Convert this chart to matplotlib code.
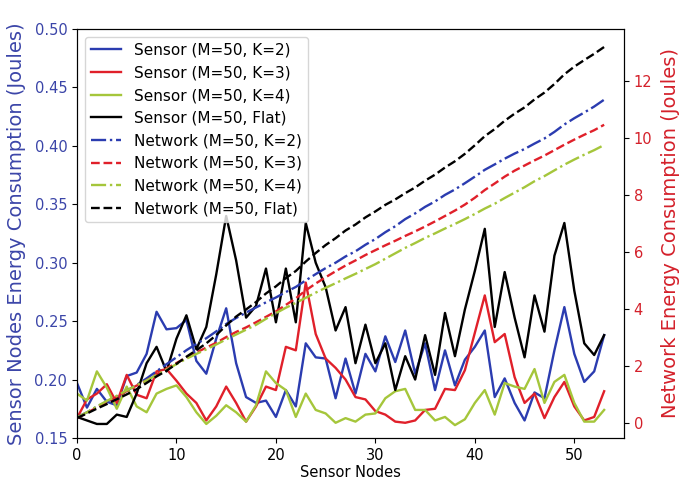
import numpy as np
import matplotlib
matplotlib.use('Agg')
import matplotlib.pyplot as plt

# sensor node energy (left axis, Joules)
nodes = np.arange(54)

sensor_k2 = [0.197, 0.176, 0.192, 0.181, 0.178, 0.203, 0.206, 0.222, 0.258, 0.243,
             0.244, 0.251, 0.216, 0.205, 0.235, 0.261, 0.214, 0.185, 0.180, 0.182,
             0.168, 0.191, 0.177, 0.231, 0.219, 0.218, 0.184, 0.218, 0.188, 0.222,
             0.207, 0.237, 0.215, 0.242, 0.205, 0.231, 0.191, 0.225, 0.195, 0.217,
             0.228, 0.242, 0.185, 0.201, 0.180, 0.165, 0.189, 0.184, 0.225, 0.262,
             0.222, 0.198, 0.207, 0.238]
sensor_k3 = [0.167, 0.183, 0.188, 0.196, 0.180, 0.204, 0.187, 0.184, 0.207, 0.209,
             0.199, 0.188, 0.180, 0.165, 0.177, 0.194, 0.180, 0.164, 0.177, 0.194,
             0.191, 0.228, 0.225, 0.283, 0.239, 0.218, 0.210, 0.200, 0.185, 0.183,
             0.173, 0.170, 0.164, 0.163, 0.165, 0.174, 0.175, 0.192, 0.191, 0.208,
             0.240, 0.272, 0.232, 0.239, 0.202, 0.180, 0.188, 0.167, 0.185, 0.198,
             0.177, 0.165, 0.168, 0.190]
sensor_k4 = [0.188, 0.182, 0.207, 0.193, 0.175, 0.194, 0.177, 0.172, 0.188, 0.192,
             0.195, 0.185, 0.172, 0.162, 0.169, 0.178, 0.172, 0.164, 0.178, 0.207,
             0.197, 0.191, 0.168, 0.188, 0.174, 0.171, 0.163, 0.167, 0.164, 0.170,
             0.171, 0.184, 0.190, 0.192, 0.174, 0.174, 0.165, 0.168, 0.161, 0.166,
             0.180, 0.191, 0.170, 0.197, 0.194, 0.192, 0.209, 0.180, 0.198, 0.204,
             0.180, 0.164, 0.164, 0.174]
sensor_flat = [0.168, 0.165, 0.162, 0.162, 0.170, 0.168, 0.188, 0.214, 0.228, 0.207,
               0.235, 0.255, 0.226, 0.245, 0.290, 0.340, 0.302, 0.253, 0.263, 0.295,
               0.249, 0.295, 0.249, 0.334, 0.300, 0.279, 0.242, 0.262, 0.214, 0.247,
               0.214, 0.231, 0.191, 0.220, 0.200, 0.238, 0.204, 0.257, 0.220, 0.260,
               0.293, 0.329, 0.245, 0.292, 0.253, 0.219, 0.272, 0.241, 0.306, 0.334,
               0.276, 0.231, 0.221, 0.238]

# network energy (right axis, Joules)
network_k2 = [0.20, 0.37, 0.57, 0.75, 0.92, 1.13, 1.33, 1.56, 1.81, 2.06,
              2.30, 2.55, 2.77, 2.97, 3.21, 3.47, 3.68, 3.87, 4.05, 4.23,
              4.40, 4.59, 4.77, 5.00, 5.22, 5.43, 5.62, 5.84, 6.02, 6.25,
              6.45, 6.69, 6.90, 7.15, 7.35, 7.58, 7.77, 8.00, 8.19, 8.41,
              8.64, 8.88, 9.07, 9.27, 9.45, 9.61, 9.80, 9.98, 10.21, 10.47,
              10.69, 10.89, 11.10, 11.34]
network_k3 = [0.17, 0.35, 0.54, 0.73, 0.91, 1.12, 1.31, 1.49, 1.70, 1.91,
              2.10, 2.29, 2.47, 2.64, 2.81, 3.01, 3.19, 3.35, 3.53, 3.72,
              3.91, 4.14, 4.37, 4.65, 4.89, 5.11, 5.32, 5.52, 5.70, 5.89,
              6.06, 6.23, 6.39, 6.56, 6.72, 6.89, 7.07, 7.26, 7.45, 7.66,
              7.90, 8.17, 8.40, 8.64, 8.85, 9.03, 9.21, 9.38, 9.57, 9.76,
              9.94, 10.11, 10.27, 10.46]
network_k4 = [0.19, 0.37, 0.58, 0.77, 0.95, 1.14, 1.32, 1.49, 1.68, 1.87,
              2.06, 2.25, 2.42, 2.58, 2.75, 2.93, 3.10, 3.27, 3.44, 3.65,
              3.85, 4.04, 4.21, 4.39, 4.57, 4.74, 4.90, 5.07, 5.23, 5.40,
              5.57, 5.76, 5.95, 6.14, 6.31, 6.49, 6.65, 6.82, 6.98, 7.15,
              7.33, 7.52, 7.69, 7.89, 8.08, 8.27, 8.48, 8.66, 8.86, 9.06,
              9.24, 9.41, 9.57, 9.75]
network_flat = [0.17, 0.33, 0.50, 0.66, 0.83, 1.00, 1.18, 1.40, 1.63, 1.83,
                2.07, 2.32, 2.55, 2.79, 3.08, 3.42, 3.73, 3.98, 4.24, 4.54,
                4.79, 5.08, 5.33, 5.66, 5.96, 6.24, 6.48, 6.75, 6.96, 7.21,
                7.42, 7.65, 7.84, 8.06, 8.26, 8.50, 8.71, 8.96, 9.18, 9.44,
                9.74, 10.06, 10.31, 10.60, 10.85, 11.07, 11.35, 11.59, 11.89, 12.23,
                12.50, 12.73, 12.95, 13.19]

blue = '#2b3cb0'
red = '#e0202a'
green = '#a5c63b'
blue_txt = '#3b45a8'
red_txt = '#d4202a'

fig = plt.figure(figsize=(6.85, 4.86), dpi=100)
ax = fig.add_axes([0.1124, 0.0988, 0.7986, 0.8415])
ax2 = ax.twinx()

lw = 1.7
h1, = ax.plot(nodes, sensor_k2, color=blue, lw=lw, label='Sensor (M=50, K=2)')
h2, = ax.plot(nodes, sensor_k3, color=red, lw=lw, label='Sensor (M=50, K=3)')
h3, = ax.plot(nodes, sensor_k4, color=green, lw=lw, label='Sensor (M=50, K=4)')
h4, = ax.plot(nodes, sensor_flat, color='black', lw=lw, label='Sensor (M=50, Flat)')

h5, = ax2.plot(nodes, network_k2, color=blue, lw=lw, ls='-.', label='Network (M=50, K=2)')
h6, = ax2.plot(nodes, network_k3, color=red, lw=lw, ls='--', label='Network (M=50, K=3)')
h7, = ax2.plot(nodes, network_k4, color=green, lw=lw, ls='-.', label='Network (M=50, K=4)')
h8, = ax2.plot(nodes, network_flat, color='black', lw=lw, ls='--', label='Network (M=50, Flat)')

ax.set_xlim(0, 55)
ax.set_ylim(0.15, 0.50)
ax2.set_ylim(-0.53, 13.82)
ax.set_xticks([0, 10, 20, 30, 40, 50])
ax2.set_yticks([0, 2, 4, 6, 8, 10, 12])

ax.set_xlabel('Sensor Nodes', fontsize=10.5, labelpad=2)
ax.set_ylabel('Sensor Nodes Energy Consumption (Joules)', color=blue_txt, fontsize=14, labelpad=6)
ax2.set_ylabel('Network Energy Consumption (Joules)', color=red_txt, fontsize=14, labelpad=6)

ax.tick_params(axis='x', labelsize=10.5)
ax.tick_params(axis='y', labelsize=10.5, labelcolor=blue_txt)
ax2.tick_params(axis='y', labelsize=10.5, labelcolor=red_txt)

handles = [h1, h2, h3, h4, h5, h6, h7, h8]
ax2.legend(handles, [h.get_label() for h in handles], loc='upper left', fontsize=11)

plt.savefig('out.png')
plt.close()
